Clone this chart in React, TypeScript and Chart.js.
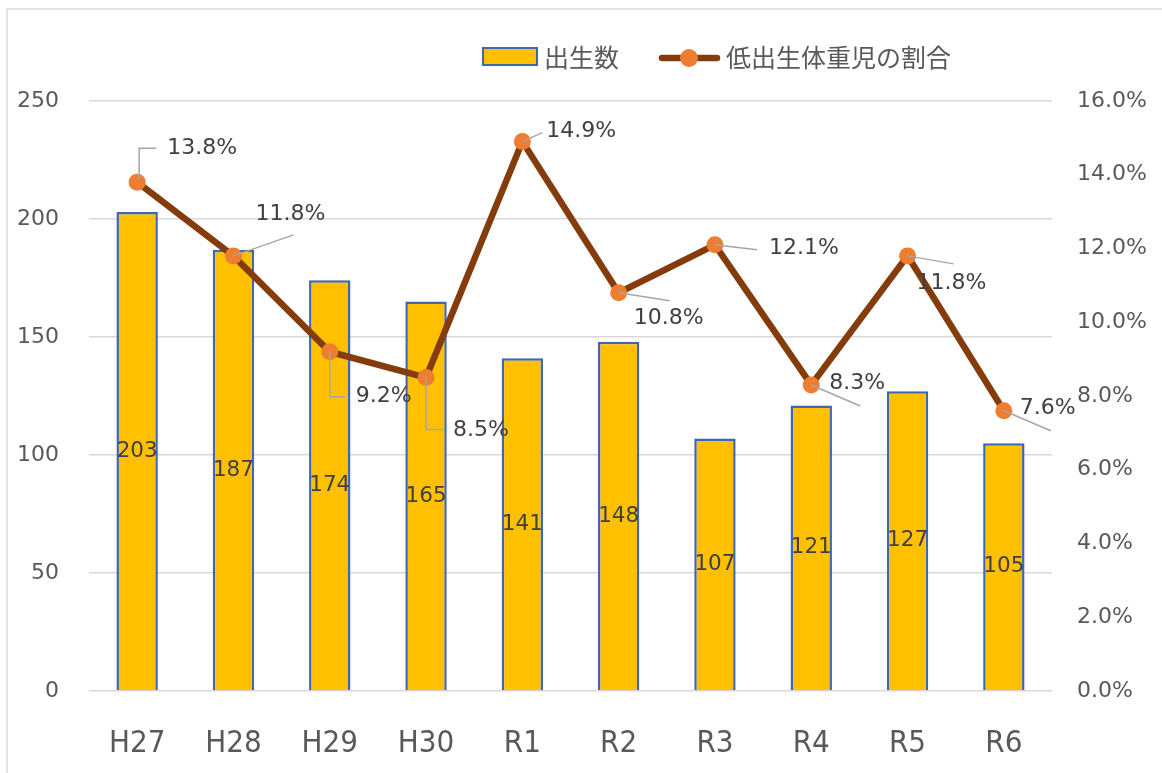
import { useEffect, useRef } from "react";
import { Chart, registerables } from "chart.js";

Chart.register(...registerables);

// ---- data ----
const categories = ["H27", "H28", "H29", "H30", "R1", "R2", "R3", "R4", "R5", "R6"];
const births = [203, 187, 174, 165, 141, 148, 107, 121, 127, 105];
const lowWeightRate = [13.8, 11.8, 9.2, 8.5, 14.9, 10.8, 12.1, 8.3, 11.8, 7.6];
const leftTicks = [0, 50, 100, 150, 200, 250];
const rightTicks = [0, 2, 4, 6, 8, 10, 12, 14, 16];
const barLabel = "出生数";
const lineLabel = "低出生体重児の割合";

// label placement (relative to each point): label left/center, leader polyline
const rateLabelPlacement: { label: [number, number]; leader: [number, number][] }[] = [
  { label: [30, -34], leader: [[2, -3], [2, -34], [19, -34]] },
  { label: [22, -42], leader: [[0, 0], [60, -21]] },
  { label: [26, 45], leader: [[0, 0], [0, 45], [16, 45]] },
  { label: [27, 53], leader: [[0, 0], [0, 52], [18, 52]] },
  { label: [24, -10], leader: [[0, 0], [20, -9]] },
  { label: [15, 26], leader: [[0, 0], [51, 8]] },
  { label: [54, 3], leader: [[0, 0], [42, 5]] },
  { label: [18, -2], leader: [[0, 0], [49, 21]] },
  { label: [9, 27], leader: [[0, 0], [46, 8]] },
  { label: [16, -2], leader: [[0, 0], [47, 20]] },
];

const BAR_FILL = "#FFC000";
const BAR_BORDER = "#3F66B0";
const LINE_COLOR = "#843C0C";
const POINT_COLOR = "#ED7D31";
const TEXT = "#595959";
const LABEL_TEXT = "#404040";
const NUM_FONT = "'DejaVu Sans', sans-serif";
const JP_FONT = "'Noto Sans CJK JP', sans-serif";

const W = 1153;
const H = 762;

const labelsPlugin = {
  id: "customLabels",
  afterDatasetsDraw(chart: any) {
    const ctx = chart.ctx as CanvasRenderingContext2D;
    // bar labels
    const barMeta = chart.getDatasetMeta(0);
    ctx.save();
    ctx.font = `21.5px ${NUM_FONT}`;
    ctx.fillStyle = LABEL_TEXT;
    ctx.textAlign = "center";
    ctx.textBaseline = "middle";
    barMeta.data.forEach((el: any, i: number) => {
      const cy = (el.y + el.base) / 2;
      ctx.fillText(String(births[i]), el.x, cy);
    });
    ctx.restore();

    // line labels
    const lineMeta = chart.getDatasetMeta(1);
    ctx.save();
    lineMeta.data.forEach((el: any, i: number) => {
      const p = rateLabelPlacement[i];
      ctx.strokeStyle = "#A6A6A6";
      ctx.lineWidth = 1.5;
      ctx.beginPath();
      p.leader.forEach(([dx, dy], k) => {
        if (k === 0) ctx.moveTo(el.x + dx, el.y + dy);
        else ctx.lineTo(el.x + dx, el.y + dy);
      });
      ctx.stroke();
    });
    ctx.font = `22px ${NUM_FONT}`;
    ctx.fillStyle = LABEL_TEXT;
    ctx.textAlign = "left";
    ctx.textBaseline = "middle";
    lineMeta.data.forEach((el: any, i: number) => {
      const p = rateLabelPlacement[i];
      ctx.fillText(lowWeightRate[i].toFixed(1) + "%", el.x + p.label[0], el.y + p.label[1]);
    });
    ctx.restore();
  },
  afterDraw(chart: any) {
    const ctx = chart.ctx as CanvasRenderingContext2D;
    ctx.save();
    // bar legend
    ctx.fillStyle = BAR_FILL;
    ctx.strokeStyle = BAR_BORDER;
    ctx.lineWidth = 2;
    ctx.fillRect(475, 38, 54, 17);
    ctx.strokeRect(475, 38, 54, 17);
    ctx.font = `25px ${JP_FONT}`;
    ctx.fillStyle = TEXT;
    ctx.textBaseline = "middle";
    ctx.textAlign = "left";
    ctx.fillText(barLabel, 536, 47);
    // line legend
    ctx.strokeStyle = LINE_COLOR;
    ctx.lineWidth = 6.5;
    ctx.lineCap = "round";
    ctx.beginPath();
    ctx.moveTo(654, 48);
    ctx.lineTo(709, 48);
    ctx.stroke();
    ctx.fillStyle = POINT_COLOR;
    ctx.beginPath();
    ctx.arc(681, 48, 9, 0, Math.PI * 2);
    ctx.fill();
    ctx.fillStyle = TEXT;
    ctx.fillText(lineLabel, 718, 47);
    ctx.restore();
  },
};

export default function App() {
  const ref = useRef<HTMLCanvasElement | null>(null);

  useEffect(() => {
    if (!ref.current) return;
    const chart = new Chart(ref.current, {
      type: "bar",
      data: {
        labels: categories,
        datasets: [
          {
            type: "bar",
            label: barLabel,
            data: births,
            backgroundColor: BAR_FILL,
            borderColor: BAR_BORDER,
            borderWidth: 2.5,
            categoryPercentage: 1,
            barPercentage: 0.43,
            yAxisID: "y",
            order: 2,
          },
          {
            type: "line",
            label: lineLabel,
            data: lowWeightRate,
            borderColor: LINE_COLOR,
            borderWidth: 6.5,
            pointRadius: 8.5,
            pointBackgroundColor: POINT_COLOR,
            pointBorderColor: POINT_COLOR,
            pointBorderWidth: 0,
            tension: 0,
            yAxisID: "y1",
            order: 1,
          },
        ],
      },
      options: {
        responsive: false,
        animation: false,
        layout: { padding: { top: 91, left: 0, right: 0, bottom: 0 } },
        plugins: {
          legend: { display: false },
          tooltip: { enabled: false },
        },
        scales: {
          x: {
            grid: { display: false },
            border: { display: false },
            ticks: {
              color: TEXT,
              font: { family: "'DejaVu Sans Condensed', 'DejaVu Sans', sans-serif", size: 31 },
              padding: 26,
            },
            afterFit: (s: any) => {
              s.height = 81;
            },
          },
          y: {
            position: "left",
            min: 0,
            max: 250,
            afterBuildTicks: (s: any) => {
              s.ticks = leftTicks.map((v) => ({ value: v }));
            },
            grid: { color: "#D9D9D9", lineWidth: 1.5, drawTicks: false },
            border: { display: false },
            ticks: {
              color: TEXT,
              font: { family: NUM_FONT, size: 22 },
              padding: 30,
            },
            afterFit: (s: any) => {
              s.width = 81;
            },
          },
          y1: {
            position: "right",
            min: 0,
            max: 16,
            afterBuildTicks: (s: any) => {
              s.ticks = rightTicks.map((v) => ({ value: v }));
            },
            grid: { display: false, drawTicks: false },
            border: { display: false },
            ticks: {
              color: TEXT,
              font: { family: NUM_FONT, size: 22 },
              padding: 25,
              callback: (v: any) => Number(v).toFixed(1) + "%",
            },
            afterFit: (s: any) => {
              s.width = 109;
            },
          },
        },
      },
      plugins: [labelsPlugin],
    } as any);
    return () => chart.destroy();
  }, []);

  return (
    <div
      style={{
        position: "fixed",
        left: 6,
        top: 8,
        width: 1162 - 6,
        height: 773 - 8,
        borderLeft: "2px solid #E3E3E3",
        borderTop: "2px solid #E3E3E3",
        background: "#fff",
      }}
    >
      <canvas ref={ref} width={W} height={H} style={{ display: "block", width: W, height: H }} />
    </div>
  );
}
